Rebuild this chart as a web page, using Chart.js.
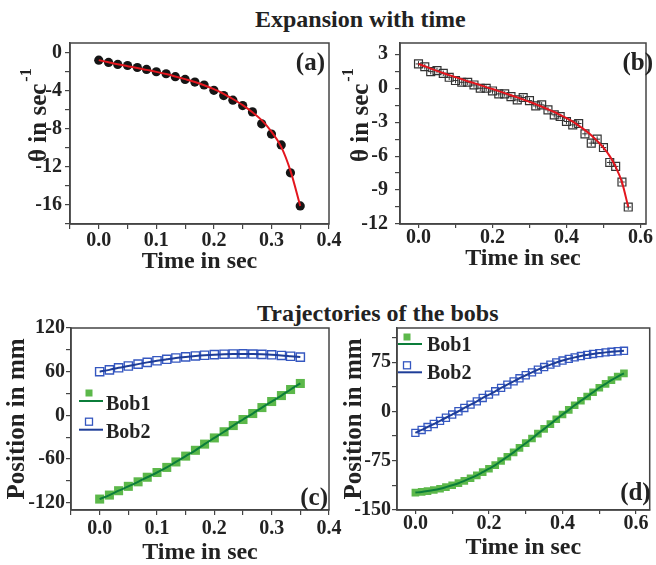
<!DOCTYPE html>
<html>
<head>
<meta charset="utf-8">
<script src="https://cdn.jsdelivr.net/npm/chart.js@4.4.0/dist/chart.umd.min.js"></script>
<style>
body { margin: 0; background: #fff; width: 656px; height: 565px; position: relative; overflow: hidden; }
canvas { position: absolute; }
.ttl { position: absolute; font: bold 24px "Liberation Serif", serif; line-height: 24px; white-space: nowrap; color: #222; }
</style>
</head>
<body>
<div class="ttl" style="left:255px;top:7px">Expansion with time</div>
<div class="ttl" style="left:257px;top:301px">Trajectories of the bobs</div>
<canvas id="chartA" width="345" height="280" style="left:0;top:0"></canvas>
<canvas id="chartB" width="321" height="280" style="left:335px;top:0"></canvas>
<canvas id="chartC" width="345" height="285" style="left:0;top:280px"></canvas>
<canvas id="chartD" width="321" height="285" style="left:335px;top:280px"></canvas>
<script>
// panel (a): theta vs time, first run
var tA = [0, 0.017, 0.033, 0.05, 0.067, 0.083, 0.1, 0.117, 0.133, 0.15, 0.167, 0.183, 0.2, 0.217, 0.233, 0.25, 0.267, 0.283, 0.3, 0.317, 0.333, 0.35];
var thetaA = [-0.8, -1.04, -1.25, -1.36, -1.57, -1.77, -2.02, -2.23, -2.54, -2.82, -3.1, -3.41, -3.97, -4.52, -5.0, -5.57, -6.23, -7.48, -8.56, -9.7, -12.63, -16.1];
var fitA = [-0.8, -1.03, -1.24, -1.43, -1.62, -1.82, -2.03, -2.26, -2.51, -2.79, -3.09, -3.44, -3.85, -4.33, -4.88, -5.52, -6.27, -7.1, -8.3, -9.9, -12.4, -16.1];

// panel (b): theta vs time, second run
var tB = [0, 0.017, 0.033, 0.05, 0.067, 0.083, 0.1, 0.117, 0.133, 0.15, 0.167, 0.183, 0.2, 0.217, 0.233, 0.25, 0.267, 0.283, 0.3, 0.317, 0.333, 0.35, 0.367, 0.383, 0.4, 0.417, 0.433, 0.45, 0.467, 0.483, 0.5, 0.517, 0.533, 0.55, 0.567];
var thetaB = [2.15, 1.9, 1.47, 1.56, 1.32, 0.97, 0.68, 0.53, 0.53, 0.29, 0.0, 0.0, -0.24, -0.5, -0.5, -0.74, -1.03, -0.82, -1.09, -1.56, -1.47, -1.91, -2.35, -2.5, -2.94, -3.24, -3.12, -4.03, -4.85, -4.5, -5.24, -6.56, -6.91, -8.29, -10.5];
var fitB = [2.15, 1.94, 1.74, 1.54, 1.35, 1.16, 0.98, 0.8, 0.62, 0.45, 0.28, 0.1, -0.07, -0.25, -0.43, -0.62, -0.81, -1.0, -1.2, -1.41, -1.63, -1.86, -2.1, -2.36, -2.64, -2.95, -3.3, -3.7, -4.15, -4.65, -5.25, -6.0, -6.95, -8.3, -10.5];

// panel (c): bob positions, first run (same times as a)
var bob1C = [-115, -109.5, -103.5, -97.5, -91.3, -85, -78.5, -71.5, -64, -56, -48, -39.5, -31, -22.5, -14, -5.7, 2.5, 10.7, 19, 27.2, 35.5, 43.8];
var bob2C = [60, 62.5, 65.3, 67.8, 70.4, 72.8, 75, 77, 78.8, 80.3, 81.6, 82.6, 83.4, 84, 84.3, 84.4, 84.2, 83.8, 83.2, 82.3, 81.2, 80];

// panel (d): bob positions, second run (same times as b)
var bob1D = [-123.5, -122.5, -121.2, -119.6, -117.6, -115.2, -112.4, -109.2, -105.6, -101.6, -97.2, -92.4, -87.2, -81.7, -75.5, -69, -62.3, -55.4, -48.3, -41.1, -33.8, -26.5, -19.2, -11.9, -4.7, 2.4, 9.4, 16.2, 22.8, 29.2, 36, 42, 47.6, 53, 58];
var bob2D = [-32.6, -28.2, -23.7, -19.1, -14.4, -9.6, -4.7, 0.3, 5.3, 10.3, 15.4, 20.5, 25.6, 30.7, 35.8, 40.8, 45.7, 50.5, 55.1, 59.5, 63.7, 67.6, 71.2, 74.5, 77.5, 80.1, 82.3, 84.3, 86, 87.5, 88.8, 89.9, 90.8, 91.6, 92.3];

// labelled ticks
var xMajorA = [0.0, 0.1, 0.2, 0.3, 0.4];
var xMajorB = [0.0, 0.2, 0.4, 0.6];
var yMajorA = [0, -4, -8, -12, -16];
var yMajorB = [3, 0, -3, -6, -9, -12];
var yMajorC = [120, 60, 0, -60, -120];
var yMajorD = [75, 0, -75, -150];

var SERIF = '"Liberation Serif", "Times New Roman", serif';
var INK = '#222';
var AXIS = '#444';
var GREEN_MK = '#5cb84a', GREEN_LN = '#0b7d3a';
var BLUE_MK = '#3557c0', BLUE_LN = '#1e3d98';

function pts(xs, ys) {
    return xs.map(function (x, i) { return {x: x, y: ys[i]}; });
}

function isMajor(v, majors) {
    return majors.some(function (m) { return Math.abs(m - v) < 1e-6; });
}

function fmtX(v) { return v.toFixed(1); }
function fmtY(v) { return String(Math.round(v)); }

function axis(min, max, step, majors, fmt, tl, pad) {
    return {
        type: 'linear',
        min: min,
        max: max,
        border: {display: true, color: AXIS, width: 1.5},
        grid: {drawOnChartArea: false, drawTicks: true, color: AXIS, lineWidth: 1.2, tickLength: tl},
        ticks: {
            stepSize: step, autoSkip: false, maxRotation: 0, includeBounds: false,
            padding: pad, color: INK,
            font: {family: SERIF, weight: 'bold', size: 20},
            callback: function (v) { return isMajor(v, majors) ? fmt(v) : ''; }
        }
    };
}

function xAxis(min, max, step, majors, tl, pad, h, titlePad) {
    var a = axis(min, max, step, majors, fmtX, tl, pad);
    a.title = {display: true, text: 'Time in sec', color: INK, font: {family: SERIF, weight: 'bold', size: 24}, padding: {top: 0, bottom: titlePad}};
    a.afterFit = function (s) { s.height = h; s.paddingLeft = 0; s.paddingRight = 0; };
    return a;
}

function yAxis(min, max, step, majors, tl, pad, w, title) {
    var a = axis(min, max, step, majors, fmtY, tl, pad);
    if (title) {
        a.title = {display: true, text: title, color: INK, font: {family: SERIF, weight: 'bold', size: 25}, padding: {top: 0, bottom: 0}};
    }
    a.afterFit = function (s) { s.width = w; s.paddingTop = 0; s.paddingBottom = 0; };
    return a;
}

// frame, panel tag, rotated theta title and Origin-style legend
var decor = {
    id: 'decor',
    afterDraw: function (chart, args, o) {
        var ctx = chart.ctx, a = chart.chartArea;
        ctx.save();
        ctx.strokeStyle = AXIS;
        ctx.lineWidth = 1.5;
        ctx.strokeRect(a.left, a.top, a.right - a.left, a.bottom - a.top);
        ctx.fillStyle = INK;
        ctx.textBaseline = 'alphabetic';
        if (o.tag) {
            ctx.font = 'bold 25px ' + SERIF;
            ctx.textAlign = 'right';
            ctx.fillText(o.tag.text, a.right + o.tag.dx, (o.tag.bottom ? a.bottom : a.top) + o.tag.dy);
        }
        if (o.ytitle) {
            ctx.save();
            ctx.translate(a.left + o.ytitle.dx, a.top + o.ytitle.dy);
            ctx.rotate(-Math.PI / 2);
            ctx.textAlign = 'left';
            ctx.font = 'bold 25px ' + SERIF;
            ctx.fillText('\u03b8 in sec', 0, 0);
            var w = ctx.measureText('\u03b8 in sec').width;
            ctx.font = 'bold 16px ' + SERIF;
            ctx.fillText('-1', w + 2, -15);
            ctx.restore();
        }
        if (o.legend) {
            var L = o.legend;
            L.items.forEach(function (it, k) {
                var y = a.top + L.dy + k * L.gap;
                var x = a.left + L.dx;
                if (it.filled) {
                    ctx.fillStyle = it.marker;
                    ctx.fillRect(x - 3.5, y - 3.5, 7, 7);
                } else {
                    ctx.strokeStyle = it.marker;
                    ctx.lineWidth = 1.3;
                    ctx.strokeRect(x - 3.5, y - 3.5, 7, 7);
                }
                ctx.strokeStyle = it.line;
                ctx.lineWidth = 2;
                ctx.beginPath();
                ctx.moveTo(a.left + L.lx0, y + L.ldy);
                ctx.lineTo(a.left + L.lx1, y + L.ldy);
                ctx.stroke();
                ctx.fillStyle = INK;
                ctx.font = 'bold 20px ' + SERIF;
                ctx.textAlign = 'left';
                ctx.fillText(it.label, a.left + L.tx, y + L.tdy);
            });
        }
        ctx.restore();
    }
};

function fitLine(data, color) {
    return {data: data, showLine: true, borderColor: color, borderWidth: 2, pointRadius: 0,
        tension: 0.4, cubicInterpolationMode: 'monotone'};
}

function basePlugins(d) {
    return {legend: {display: false}, tooltip: {enabled: false}, decor: d};
}

var chartA = new Chart(document.getElementById('chartA'), {
    type: 'scatter',
    data: {
        datasets: [
            fitLine(pts(tA, fitA), '#e3161e'),
            {data: pts(tA, thetaA), pointStyle: 'circle', pointRadius: 4.6, backgroundColor: '#151515', borderColor: '#151515', borderWidth: 0}
        ]
    },
    options: {
        responsive: false, animation: false,
        layout: {padding: {left: 0, top: 43, right: 16, bottom: 4}},
        scales: {
            x: xAxis(-0.05, 0.4, 0.05, xMajorA, 5, 0, 52, 0),
            y: yAxis(-18, 1, 2, yMajorA, 5, 3, 70, null)
        },
        plugins: basePlugins({tag: {text: '(a)', dx: -4, dy: 27}, ytitle: {dx: -24, dy: 119}})
    },
    plugins: [decor]
});

var chartB = new Chart(document.getElementById('chartB'), {
    type: 'scatter',
    data: {
        datasets: [
            fitLine(pts(tB, fitB), '#e3161e'),
            {data: pts(tB, thetaB), pointStyle: 'cross', pointRadius: 2.8, borderColor: '#333', borderWidth: 1},
            {data: pts(tB, thetaB), pointStyle: 'rect', pointRadius: 5.6, backgroundColor: 'rgba(255,255,255,0)', borderColor: '#333', borderWidth: 1.2}
        ]
    },
    options: {
        responsive: false, animation: false,
        layout: {padding: {left: 0, top: 43, right: 10, bottom: 7}},
        scales: {
            x: xAxis(-0.05, 0.615, 0.1, xMajorB, 4, -2, 49, 0),
            y: yAxis(-12, 4, 1.5, yMajorB, 5, 7, 65, null)
        },
        plugins: basePlugins({tag: {text: '(b)', dx: 7, dy: 27}, ytitle: {dx: -32, dy: 119}})
    },
    plugins: [decor]
});

var chartC = new Chart(document.getElementById('chartC'), {
    type: 'scatter',
    data: {
        datasets: [
            fitLine(pts(tA, bob1C), GREEN_LN),
            fitLine(pts(tA, bob2C), BLUE_LN),
            {data: pts(tA, bob1C), pointStyle: 'rect', pointRadius: 6.4, backgroundColor: GREEN_MK, borderColor: GREEN_MK, borderWidth: 0},
            {data: pts(tA, bob2C), pointStyle: 'rect', pointRadius: 5.8, backgroundColor: 'rgba(255,255,255,0)', borderColor: BLUE_MK, borderWidth: 1.4}
        ]
    },
    options: {
        responsive: false, animation: false,
        layout: {padding: {left: 3, top: 48, right: 16, bottom: 0}},
        scales: {
            x: xAxis(-0.05, 0.4, 0.05, xMajorA, 5, 2, 55, -2),
            y: yAxis(-130, 120, 30, yMajorC, 5, 1, 68, 'Position in mm')
        },
        plugins: basePlugins({
            tag: {text: '(c)', dx: -1, dy: -5, bottom: true},
            legend: {dx: 18, dy: 65, gap: 28.7, lx0: 8, lx1: 32, ldy: 8, tx: 35, tdy: 16.5,
                items: [
                    {label: 'Bob1', marker: GREEN_MK, filled: true, line: GREEN_LN},
                    {label: 'Bob2', marker: BLUE_MK, filled: false, line: BLUE_LN}
                ]}
        })
    },
    plugins: [decor]
});

var chartD = new Chart(document.getElementById('chartD'), {
    type: 'scatter',
    data: {
        datasets: [
            fitLine(pts(tB, bob1D), GREEN_LN),
            fitLine(pts(tB, bob2D), BLUE_LN),
            {data: pts(tB, bob1D), pointStyle: 'rect', pointRadius: 5.4, backgroundColor: GREEN_MK, borderColor: GREEN_MK, borderWidth: 0},
            {data: pts(tB, bob2D), pointStyle: 'rect', pointRadius: 5, backgroundColor: 'rgba(255,255,255,0)', borderColor: BLUE_MK, borderWidth: 1.3}
        ]
    },
    options: {
        responsive: false, animation: false,
        layout: {padding: {left: 5, top: 48, right: 4, bottom: 3}},
        scales: {
            x: xAxis(-0.05, 0.637, 0.1, xMajorB, 4, -2, 52, 0),
            y: yAxis(-150, 127, 37.5, yMajorD, 5, 1, 57, 'Position in mm')
        },
        plugins: basePlugins({
            tag: {text: '(d)', dx: 1, dy: -10, bottom: true},
            legend: {dx: 10, dy: 9, gap: 28.3, lx0: 1, lx1: 25, ldy: 7, tx: 30, tdy: 14,
                items: [
                    {label: 'Bob1', marker: GREEN_MK, filled: true, line: GREEN_LN},
                    {label: 'Bob2', marker: BLUE_MK, filled: false, line: BLUE_LN}
                ]}
        })
    },
    plugins: [decor]
});
</script>
</body>
</html>
